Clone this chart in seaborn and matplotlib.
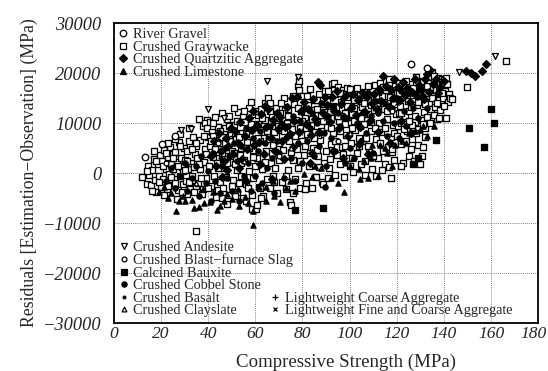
import matplotlib
matplotlib.use("Agg")
import matplotlib.pyplot as plt
import matplotlib.transforms as mtransforms
from matplotlib.lines import Line2D
import seaborn as sns
import pandas as pd

# Residuals of the strength model by aggregate type: (compressive strength MPa, residual MPa)
river_gravel = [(13.0, 3200), (20.4, 5800), (26.0, 7500), (126.0, 21800), (133.0, 21000)]

graywacke = [
    (12.0, -700), (13.8, -2100), (14.5, 1400), (14.9, -400),
    (15.5, -2400), (16.2, 600), (16.8, 2900), (17.5, -1300), (18.0, -3800), (18.6, 1800),
    (19.2, -500), (19.7, 3600), (17.1, 4400), (19.9, -2700),
    (20.3, 2500), (20.8, -1200), (21.4, 4700), (21.9, 900), (22.3, -3100), (22.8, 3200),
    (23.4, -200), (23.9, 5300), (24.3, 1900), (24.7, -2300), (21.1, -4400), (23.0, 6100), (24.9, 3900),
    (25.2, 900), (25.7, -1100), (26.1, 4300), (26.6, 2200), (27.0, -3400), (27.5, 6300), (27.9, -600),
    (28.4, 3100), (28.8, 1300), (29.3, -2200), (29.7, 5000), (25.9, 6900), (26.9, -5100), (28.2, 7800),
    (29.5, 400),
    (30.2, 2700), (30.6, -1600), (31.1, 4400), (31.5, 800), (31.9, 6400), (32.4, -3200), (32.8, 2000),
    (33.3, -500), (33.7, 7300), (34.2, 3800), (34.6, -2500), (34.9, 5400), (30.9, -4100), (32.0, 9100),
    (33.9, 1200), (35.0, -11500),
    (35.4, 3000), (35.8, -1900), (36.3, 6600), (36.7, 800), (37.2, -4200), (37.6, 9400), (38.1, 2300),
    (38.5, 4800), (38.9, -900), (39.4, 10600), (39.8, 7200), (36.0, 10800), (37.9, -3100), (38.7, 10000),
    (39.5, 9000),
    (40.2, 1500), (40.6, 5500), (41.1, -2600), (41.5, 8200), (41.9, 3300), (42.4, -500), (42.8, 6700),
    (43.3, -4800), (43.7, 2000), (44.2, 9300), (44.6, 4300), (45.0, -1700), (40.9, 10300), (43.0, 11200),
    (44.0, -3400), (42.0, 7500),
    (45.3, 6000), (45.7, 1000), (46.2, -3000), (46.6, 8500), (47.1, 3500), (47.5, -700), (47.9, 10800),
    (48.4, 5200), (48.8, -4300), (49.3, 2200), (49.7, 7600), (46.0, 12000), (48.0, -6200), (49.0, 11500),
    (45.9, 4100), (47.3, 9000),
    (50.2, 4500), (50.6, -1400), (51.1, 9600), (51.5, 1900), (51.9, 6800), (52.4, -3700), (52.8, 12300),
    (53.3, 3600), (53.7, -600), (54.2, 8000), (54.6, 11400), (54.9, -5000), (50.9, 13000), (52.0, 600),
    (53.0, 7200), (54.0, 5100), (51.3, -4500),
    (55.3, 2700), (55.7, 10200), (56.2, -2200), (56.6, 6300), (57.1, 13100), (57.5, 400), (57.9, 8700),
    (58.4, -4300), (58.8, 4700), (59.3, 11800), (59.7, 1500), (56.0, -5600), (58.0, 14200), (59.0, -1000),
    (55.9, 7800), (57.4, 5000), (58.7, -7100),
    (60.2, -7200), (60.5, -6300), (60.8, 3100), (61.2, 9900), (61.6, -2700), (62.1, 6400), (62.5, 12800),
    (62.9, 900), (63.4, -4600), (63.8, 8300), (64.2, 14000), (64.6, 4400), (65.0, -1100), (61.0, 11700),
    (62.3, -5000), (64.0, 10600),
    (65.4, 15000), (66.0, 14100), (65.8, 6900), (66.3, -2900), (66.7, 2100), (67.1, 11600), (67.6, -600),
    (68.0, 8300), (68.5, 4300), (68.9, 13000), (69.3, -3900), (69.8, 9500), (66.5, 10300), (68.2, 1000),
    (67.5, 5600),
    (70.2, 2700), (70.6, 12000), (71.1, -1800), (71.5, 7400), (71.9, 4600), (72.4, 13300), (72.8, -3100),
    (73.3, 10100), (73.7, 600), (74.2, 6400), (74.5, -5800), (75.0, -6400), (70.9, 9000), (72.0, 15000),
    (73.9, 12800),
    (75.4, 8800), (75.8, 2600), (76.3, 13900), (76.7, -1200), (77.2, 10700), (77.6, 4900), (78.1, 17500),
    (78.4, 16600), (78.9, -2900), (79.3, 12400), (79.7, 6500), (76.0, -3900), (77.9, 1000), (79.0, 9000),
    (78.6, 18500),
    (80.2, 15500), (80.6, 3600), (81.1, 11100), (81.5, -1900), (81.9, 7900), (82.4, 13700), (82.8, 1500),
    (83.3, 16800), (83.7, 9600), (84.2, -2900), (84.6, 5000), (80.9, -3200), (82.0, 10000), (83.9, 12600),
    (85.0, 14600),
    (85.4, 8300), (85.8, -800), (86.3, 12800), (86.7, 3500), (87.2, 15900), (87.6, 6600), (88.1, -1700),
    (88.5, 10500), (88.9, 13900), (89.3, 2100), (89.7, 16400), (86.0, 4700), (87.9, 11700), (88.8, -2100),
    (86.5, 7600),
    (90.2, 9200), (90.6, 14700), (91.1, 1000), (91.5, 12200), (91.9, 5900), (92.4, 17800), (92.8, 8000),
    (93.3, 18100), (93.7, -300), (94.2, 13200), (94.6, 3600), (95.0, 17300), (90.9, -1000), (92.0, 11000),
    (93.9, 15800), (91.7, 2900),
    (95.4, 10400), (95.8, 1800), (96.3, 14300), (96.7, 5200), (97.2, 16600), (97.6, -800), (98.1, 12000),
    (98.5, 7600), (98.9, 15200), (99.3, 3000), (99.7, 10000), (96.0, 8500), (97.9, 5400), (99.0, 17000),
    (96.5, 11500),
    (100.2, 16800), (100.6, 6000), (101.1, 11800), (101.5, 300), (101.9, 14700), (102.4, 8700),
    (102.8, 16300), (103.3, 4000), (103.7, 12600), (104.2, 9400), (104.6, 15600), (105.0, 1800),
    (100.9, 3000), (102.0, 10500), (103.9, 7000),
    (105.4, 13200), (105.8, 6500), (106.3, 16200), (106.7, 2400), (107.2, 10700), (107.6, 14600),
    (108.1, 4200), (108.5, 11800), (108.9, 8500), (109.3, 16900), (109.7, 900), (106.0, 9800),
    (107.9, 5500), (109.0, 13600), (106.5, -300),
    (110.2, 12600), (110.6, 17600), (111.1, 6800), (111.5, 14100), (111.9, 3000), (112.4, 10000),
    (112.8, 18100), (113.3, 8200), (113.7, 15400), (114.2, 4500), (114.6, 12800), (115.0, 1800),
    (110.9, 9000), (112.0, 16300), (113.9, 700), (111.3, -500),
    (115.4, 16700), (115.8, 10800), (116.3, 5200), (116.7, 18900), (117.2, 13700), (117.6, 7300),
    (118.1, 15800), (118.5, 9600), (118.9, 2700), (119.3, 17500), (119.7, 11900), (116.0, 14300),
    (117.9, 4200), (119.0, 8000), (116.5, 1200), (117.5, -1000),
    (120.2, 16300), (120.6, 9500), (121.1, 18100), (121.5, 13400), (121.9, 5900), (122.4, 15300),
    (122.8, 2000), (123.3, 11400), (123.7, 17400), (124.2, 8400), (124.6, 14500), (125.0, 3500),
    (120.9, 12000), (122.0, 10000), (123.9, 6400), (121.8, 1400),
    (125.4, 12400), (125.8, 17900), (126.3, 6900), (126.7, 15100), (127.2, 2500), (127.6, 10300),
    (128.1, 19300), (128.5, 13600), (128.9, 8900), (129.3, 16800), (129.7, 1800), (126.0, 4800),
    (127.9, 11500), (129.0, 5700), (126.5, 9700), (127.0, 14500),
    (130.2, 14400), (130.6, 10600), (131.1, 18400), (131.5, 12300), (131.9, 7200), (132.4, 16100),
    (132.8, 11200), (133.3, 19200), (133.7, 14100), (134.2, 17200), (134.6, 12900), (135.0, 20300),
    (130.9, 3500), (132.0, 9000), (131.3, 5200),
    (135.4, 15800), (135.8, 18200), (136.3, 13300), (136.7, 16600), (137.2, 10800), (137.6, 19000),
    (138.1, 14600), (138.5, 12700), (138.9, 13800), (139.3, 17400), (139.7, 15100), (136.0, 11700),
    (138.0, 16400), (139.0, 18800),
    (140.2, 18600), (140.6, 16500), (141.0, 11100), (141.4, 17800), (141.8, 14300), (142.2, 15900),
    (142.6, 15000), (143.4, 14800),
    (150.0, 17200), (166.4, 22400),
    # second pass through the main band
    (14, 500), (16, -3500), (18, 2500), (19, -1800), (21, 1500), (22, 4000), (23, -2500), (24, -800),
    (25, 3000), (26, -2000), (27, 1500), (28, 5500), (29, -3800), (30, 600), (31, 2500), (32, -1800),
    (33, 4800), (34, -3800), (35, 6000), (36, 1800), (37, -900), (38, 7500), (39, 3800), (40, -3000),
    (41, 6500), (42, 10000), (43, 4800), (44, 1000), (45, 8500), (46, -5000), (47, 6000), (48, 2000),
    (49, 9500), (50, -2500), (51, 4000), (52, 10500), (53, -2000), (54, 2000), (55, 12500), (56, 5000),
    (57, -3000), (58, 9800), (59, 3200), (60, 12500), (61, 7000), (62, -3000), (63, 11000), (64, 2200),
    (65, 8500), (66, 12500), (67, 4000), (68, -1800), (69, 11000), (70, 6000), (71, 14000), (72, 8500),
    (73, -500), (74, 11500), (75, 4200), (76, 15500), (77, 7500), (78, 13000), (79, 2500), (80, 10500),
    (81, 5500), (82, 15500), (83, 4000), (84, 10800), (85, 7000), (86, 14600), (87, 1200), (88, 8500),
    (89, 12200), (90, 4500), (91, 16500), (92, 9000), (93, 13500), (94, 6500), (95, 11500), (96, 16000),
    (97, 3800), (98, 9800), (99, 13500), (100, 1500), (101, 9000), (102, 13000), (103, 17000),
    (104, 5500), (105, 11000), (106, 14000), (107, 7000), (108, 17500), (109, 10200), (110, 3500),
    (111, 15500), (112, 12800), (113, 6000), (114, 17200), (115, 9000), (116, 12500), (117, 15200),
    (118, 4800), (119, 13800), (120, 7500), (121, 16000), (122, 12000), (123, 8800), (124, 18500),
    (125, 10500), (126, 13200), (127, 17000), (128, 8000), (129, 14200), (130, 16800), (131, 9800),
    (132, 13800), (133, 17500), (134, 10000), (135, 15000), (136, 19500), (137, 14000), (138, 11000),
    (139, 16000), (140, 13500), (141, 19000),
]

quartzitic = [
    (41, 3500), (42.5, 6500), (43.5, 1500), (44.5, 8000), (45.5, 4500), (46.5, 2500), (47.5, 7000),
    (48.5, 5500), (49.5, 9000), (46, -800), (48, 600),
    (50.5, 3800), (51.5, 8400), (52.5, 6100), (53.5, 10200), (54.5, 2900), (55.5, 7400), (56.5, 4800),
    (57.5, 11000), (58.5, 8600), (59.5, 5600), (53, 1000), (56, -1500), (59, 12500),
    (60.5, 9600), (61.5, 6200), (62.5, 11900), (63.5, 3800), (64.5, 9200), (65.5, 12800), (66.5, 7100),
    (67.5, 10600), (68.5, 4500), (69.5, 8800), (62, 1800), (67, -1200), (64, 13500), (69, 12000),
    (70.5, 11200), (71.5, 6400), (72.5, 9300), (73.5, 13200), (74.5, 7800), (75.5, 15000),
    (76.5, 10400), (77.5, 15300), (78.5, 8200), (79.5, 12400), (72, 2800), (76, 5300), (80.5, 14300),
    (81.5, 9800), (82.5, 12900), (83.5, 7600), (84.5, 14800), (85.5, 10900), (86.7, 18300),
    (87.4, 17600), (88.5, 12100), (89.5, 15300), (84, 4100), (87, 8300), (83, 2000),
    (90.5, 13600), (91.5, 10200), (92.5, 15200), (93.5, 12400), (94.5, 16500), (95.5, 9100),
    (96.5, 13900), (97.5, 11200), (98.5, 15700), (99.5, 7500), (93, 4500), (97, 3000),
    (100.5, 13100), (101.5, 15900), (102.5, 11600), (103.5, 14700), (104.5, 9300), (105.5, 16100),
    (106.5, 12300), (107.5, 15300), (108.5, 10400), (109.5, 14100), (104, 5800), (108, 3900),
    (110.5, 15800), (111.5, 12900), (112.5, 16900), (113.5, 14400), (114, 19500), (115.5, 17400),
    (116.5, 13200), (117.5, 16600), (118.5, 15000), (119, 18800), (112, 8200), (117, 6000),
    (120.5, 17300), (121.5, 14600), (122.5, 18200), (123.5, 15700), (124.5, 17100), (125.5, 14200),
    (126.5, 16300), (127.6, 18800), (128.5, 15500), (129.5, 17700), (122, 10500), (126, 8100),
    (130.5, 16700), (131.5, 14900), (132, 18900), (132.8, 19900), (133.5, 16200), (134.3, 20600),
    (135.5, 17900), (136.5, 18800), (137.5, 16000), (138.5, 17200), (140, 18400),
    (149.4, 20400), (151.5, 20000), (153.0, 19500), (156.0, 20400), (158.0, 21800),
]

limestone = [
    (19.0, -3800), (21.3, -2800), (23.0, -5000), (24.2, -4000), (26.5, -7600), (27.5, -5500),
    (29.4, -4500), (30.0, -5500), (32.9, -5300), (34.0, -7000), (36.1, -6800), (37.6, -3200),
    (38.0, -6000), (40.6, -5800), (42.0, -3800), (43.9, -7300), (45.0, -6500), (46.5, -5500),
    (48.0, -4200), (50.0, -5100), (52.5, -3200), (53.0, -6500), (55.5, -4800), (57.0, -6000),
    (59.2, -10300), (59.2, -7600), (61.4, -2800), (64.4, -5500), (64.4, -2800), (67.4, -1500),
    (68.0, -4500), (70.3, -5800), (73.0, -3000), (74.8, -1500), (77.0, -3500), (80.7, -200),
    (84.0, -800), (85.2, 1500), (88.0, 1000), (91.9, -900), (95.0, -2000), (97.8, -3700),
    (100.0, 1500), (101.6, 3100), (103.8, 800), (104.5, -1200), (106.0, 2500), (108.0, -1000),
    (109.0, 3100), (109.7, 5700), (112.0, -500), (113.0, 5700), (115.0, 5100), (116.0, 4000),
    (118.0, 1500), (119.4, 5700), (122.4, 6400), (124.0, 6000), (125.4, 8000), (127.6, 8400),
    (129.8, 8700), (131.0, 9500), (133.0, 7500), (135.8, 9500),
]

andesite = [(28.5, 8600), (32.7, 8900), (40.0, 12900), (46.5, 11000), (65.0, 18500),
            (78.0, 19200), (146.4, 20200), (161.7, 23500)]

slag = [(22.0, 2000), (44.0, 6000), (70.0, 3500), (95.0, 6500), (118.0, 12500)]

bauxite = [(77.0, -7400), (88.5, -6900), (126.8, 1800), (129.0, 3000), (136.5, 6700),
           (150.6, 9000), (157.0, 5200), (160.0, 12800), (161.3, 10000)]

cobbel = [
    (22, -1500), (24, 1000), (26, -3000), (28, -500), (30, 2000), (31, -3500), (33, -1000), (35, 1500),
    (36, -4500), (37, 3500), (39, -2000), (40, 500), (41, -5500), (42, 4000), (43, -1500), (44, 6500),
    (45, -4000), (46, 1500), (47, 5000), (48, -1000), (49, 3500), (50, -3500), (51, 6000), (52, 2500),
    (53, -5500), (54, 5500), (55, -500), (56, 9000), (57, 2000), (58, -3500), (59, 7000), (60, -500),
    (61, 4500), (62, 8500), (63, -2000), (64, 6000), (65, 1000), (66, 9500), (67, 3000), (68, -4000),
    (69, 6500), (70, 4000), (71, 10000), (72, -1000), (73, 7000), (74, 9500), (75, 3000), (76, 11500),
    (77, -1500), (78, 6000), (79, 10500), (80, 2000), (81, 13000), (82, 6500), (83, 9000), (84, 12000),
    (85, 3500), (86, 10000), (87, 5500), (88, 14000), (89, 8000), (89.4, -2800), (90, 1500), (91, 11500),
    (92, 7000), (93, 13500), (94, 4500), (95, 12000), (96, 9500), (97, 15000), (98, 2000), (99, 11000),
    (100, 5000), (101, 13500), (102, 3000), (103, 10000), (104, 15000), (105, 6500), (106, 12500),
    (107, 8000), (108, 16000), (109, 11500), (110, 4000), (111, 14500), (112, 12000), (113, 16500),
    (114, 10500), (115, 14000), (116, 7500), (117, 17000), (118, 13000), (119, 10000), (120, 15000),
    (121, 7000), (122, 16500), (123, 12500), (124, 9500), (125, 16000), (127, 13000), (129, 11000),
    (131, 15500), (133, 13000),
]

basalt = [(25, 1500), (45, 3000), (65, 7000), (85, 11500), (105, 12000), (125, 16000)]
clayslate = [(35, -2000), (55, 2500), (75, 5000), (100, 8000)]
lw_coarse = [(50, 7500), (80, 8500), (110, 13000)]
lw_fine = [(60, 9000), (90, 11000), (120, 14000)]

# marker appearance for each aggregate type: (points, marker, face, size)
styles = {
    "River Gravel": (river_gravel, "o", "white", 22),
    "Crushed Graywacke": (graywacke, "s", "white", 17),
    "Crushed Quartzitic Aggregate": (quartzitic, "D", "black", 16),
    "Crushed Limestone": (limestone, "^", "black", 14),
    "Crushed Andesite": (andesite, "v", "white", 18),
    "Crushed Blast\u2212furnace Slag": (slag, "o", "white", 12),
    "Calcined Bauxite": (bauxite, "s", "black", 18),
    "Crushed Cobbel Stone": (cobbel, "o", "black", 14),
    "Crushed Basalt": (basalt, "o", "black", 4),
    "Crushed Clayslate": (clayslate, "^", "white", 12),
    "Lightweight Coarse Aggregate": (lw_coarse, "+", "black", 14),
    "Lightweight Fine and Coarse Aggregate": (lw_fine, "x", "black", 10),
}

rows = []
for name, (pts, _, _, _) in styles.items():
    for s, r in pts:
        rows.append({"strength": s, "residual": r, "aggregate": name})
df = pd.DataFrame(rows)

sns.set_style("white")
plt.rcParams["font.family"] = ["Liberation Serif", "DejaVu Serif"]

fig = plt.figure(figsize=(5.48, 3.71), dpi=100)
ax = fig.add_axes([0.208, 0.129, 0.774, 0.809])

# open squares first so the filled aggregates stay visible inside the dense band
draw_order = ["Crushed Graywacke", "Crushed Cobbel Stone", "Crushed Quartzitic Aggregate",
              "Crushed Limestone", "River Gravel", "Crushed Andesite",
              "Crushed Blast\u2212furnace Slag", "Calcined Bauxite", "Crushed Basalt",
              "Crushed Clayslate", "Lightweight Coarse Aggregate",
              "Lightweight Fine and Coarse Aggregate"]
for name in draw_order:
    _, marker, face, size = styles[name]
    sub = df[df["aggregate"] == name]
    kw = dict(marker=marker, s=size, ax=ax, legend=False, zorder=3)
    if marker in ("+", "x"):
        kw.update(color="black", linewidth=0.9)
    else:
        kw.update(facecolor=face, edgecolor="black", linewidth=0.95)
    sns.scatterplot(data=sub, x="strength", y="residual", **kw)

ax.set_xlim(0, 180)
ax.set_ylim(-30000, 30000)
ax.set_xticks(range(0, 181, 20))
ax.set_yticks(range(-30000, 30001, 10000))
ax.set_yticklabels([f"\u2212{abs(v)}" if v < 0 else str(v) for v in range(-30000, 30001, 10000)])
ax.grid(True, color="#555555", linestyle=(0, (1, 1.5)), linewidth=0.6)
ax.tick_params(length=0)
ax.tick_params(axis="x", pad=2, labelsize=12.6)
ax.tick_params(axis="y", pad=9, labelsize=13.2)
for lab in ax.get_xticklabels() + ax.get_yticklabels():
    lab.set_fontstyle("italic")
# keep the last strength label inside the figure edge
last = ax.get_xticklabels()[-1]
last.set_transform(last.get_transform() +
                   mtransforms.ScaledTranslation(-5 / 100, 0, fig.dpi_scale_trans))
for sp in ax.spines.values():
    sp.set_color("black")
    sp.set_linewidth(1.3)

ax.set_xlabel("Compressive Strength (MPa)", fontsize=13.6)
ax.xaxis.label.set_verticalalignment("center")
ax.xaxis.set_label_coords(0.547, -0.13)
ax.set_ylabel("Residuals [Estimation\u2212Observation] (MPa)", fontsize=12.8)
ax.yaxis.label.set_verticalalignment("center")
ax.yaxis.set_label_coords(-0.2, 0.5)


def handle(name):
    _, marker, face, size = styles[name]
    ms = size ** 0.5
    if marker in ("+", "x"):
        return Line2D([], [], linestyle="none", marker=marker, color="black", markersize=ms,
                      markeredgewidth=0.9)
    return Line2D([], [], linestyle="none", marker=marker, markerfacecolor=face,
                  markeredgecolor="black", markersize=ms, markeredgewidth=0.9)


legend_kw = dict(frameon=False, fontsize=10.3, handlelength=0.6, handletextpad=0.35,
                 labelspacing=-0.035, borderpad=0.1)
top_names = ["River Gravel", "Crushed Graywacke", "Crushed Quartzitic Aggregate", "Crushed Limestone"]
leg1 = ax.legend([handle(n) for n in top_names], top_names, loc="upper left",
                 borderaxespad=0.25, **legend_kw)
ax.add_artist(leg1)

bottom_names = ["Crushed Andesite", "Crushed Blast\u2212furnace Slag", "Calcined Bauxite",
                "Crushed Cobbel Stone", "Crushed Basalt", "Crushed Clayslate"]
leg2 = ax.legend([handle(n) for n in bottom_names], bottom_names, loc="lower left",
                 borderaxespad=0.3, **legend_kw)
ax.add_artist(leg2)

right_names = ["Lightweight Coarse Aggregate", "Lightweight Fine and Coarse Aggregate"]
ax.legend([handle(n) for n in right_names], right_names, loc="lower left",
          bbox_to_anchor=(0.357, 0.0), borderaxespad=0.3, **legend_kw)

fig.savefig("out.png", dpi=100)
